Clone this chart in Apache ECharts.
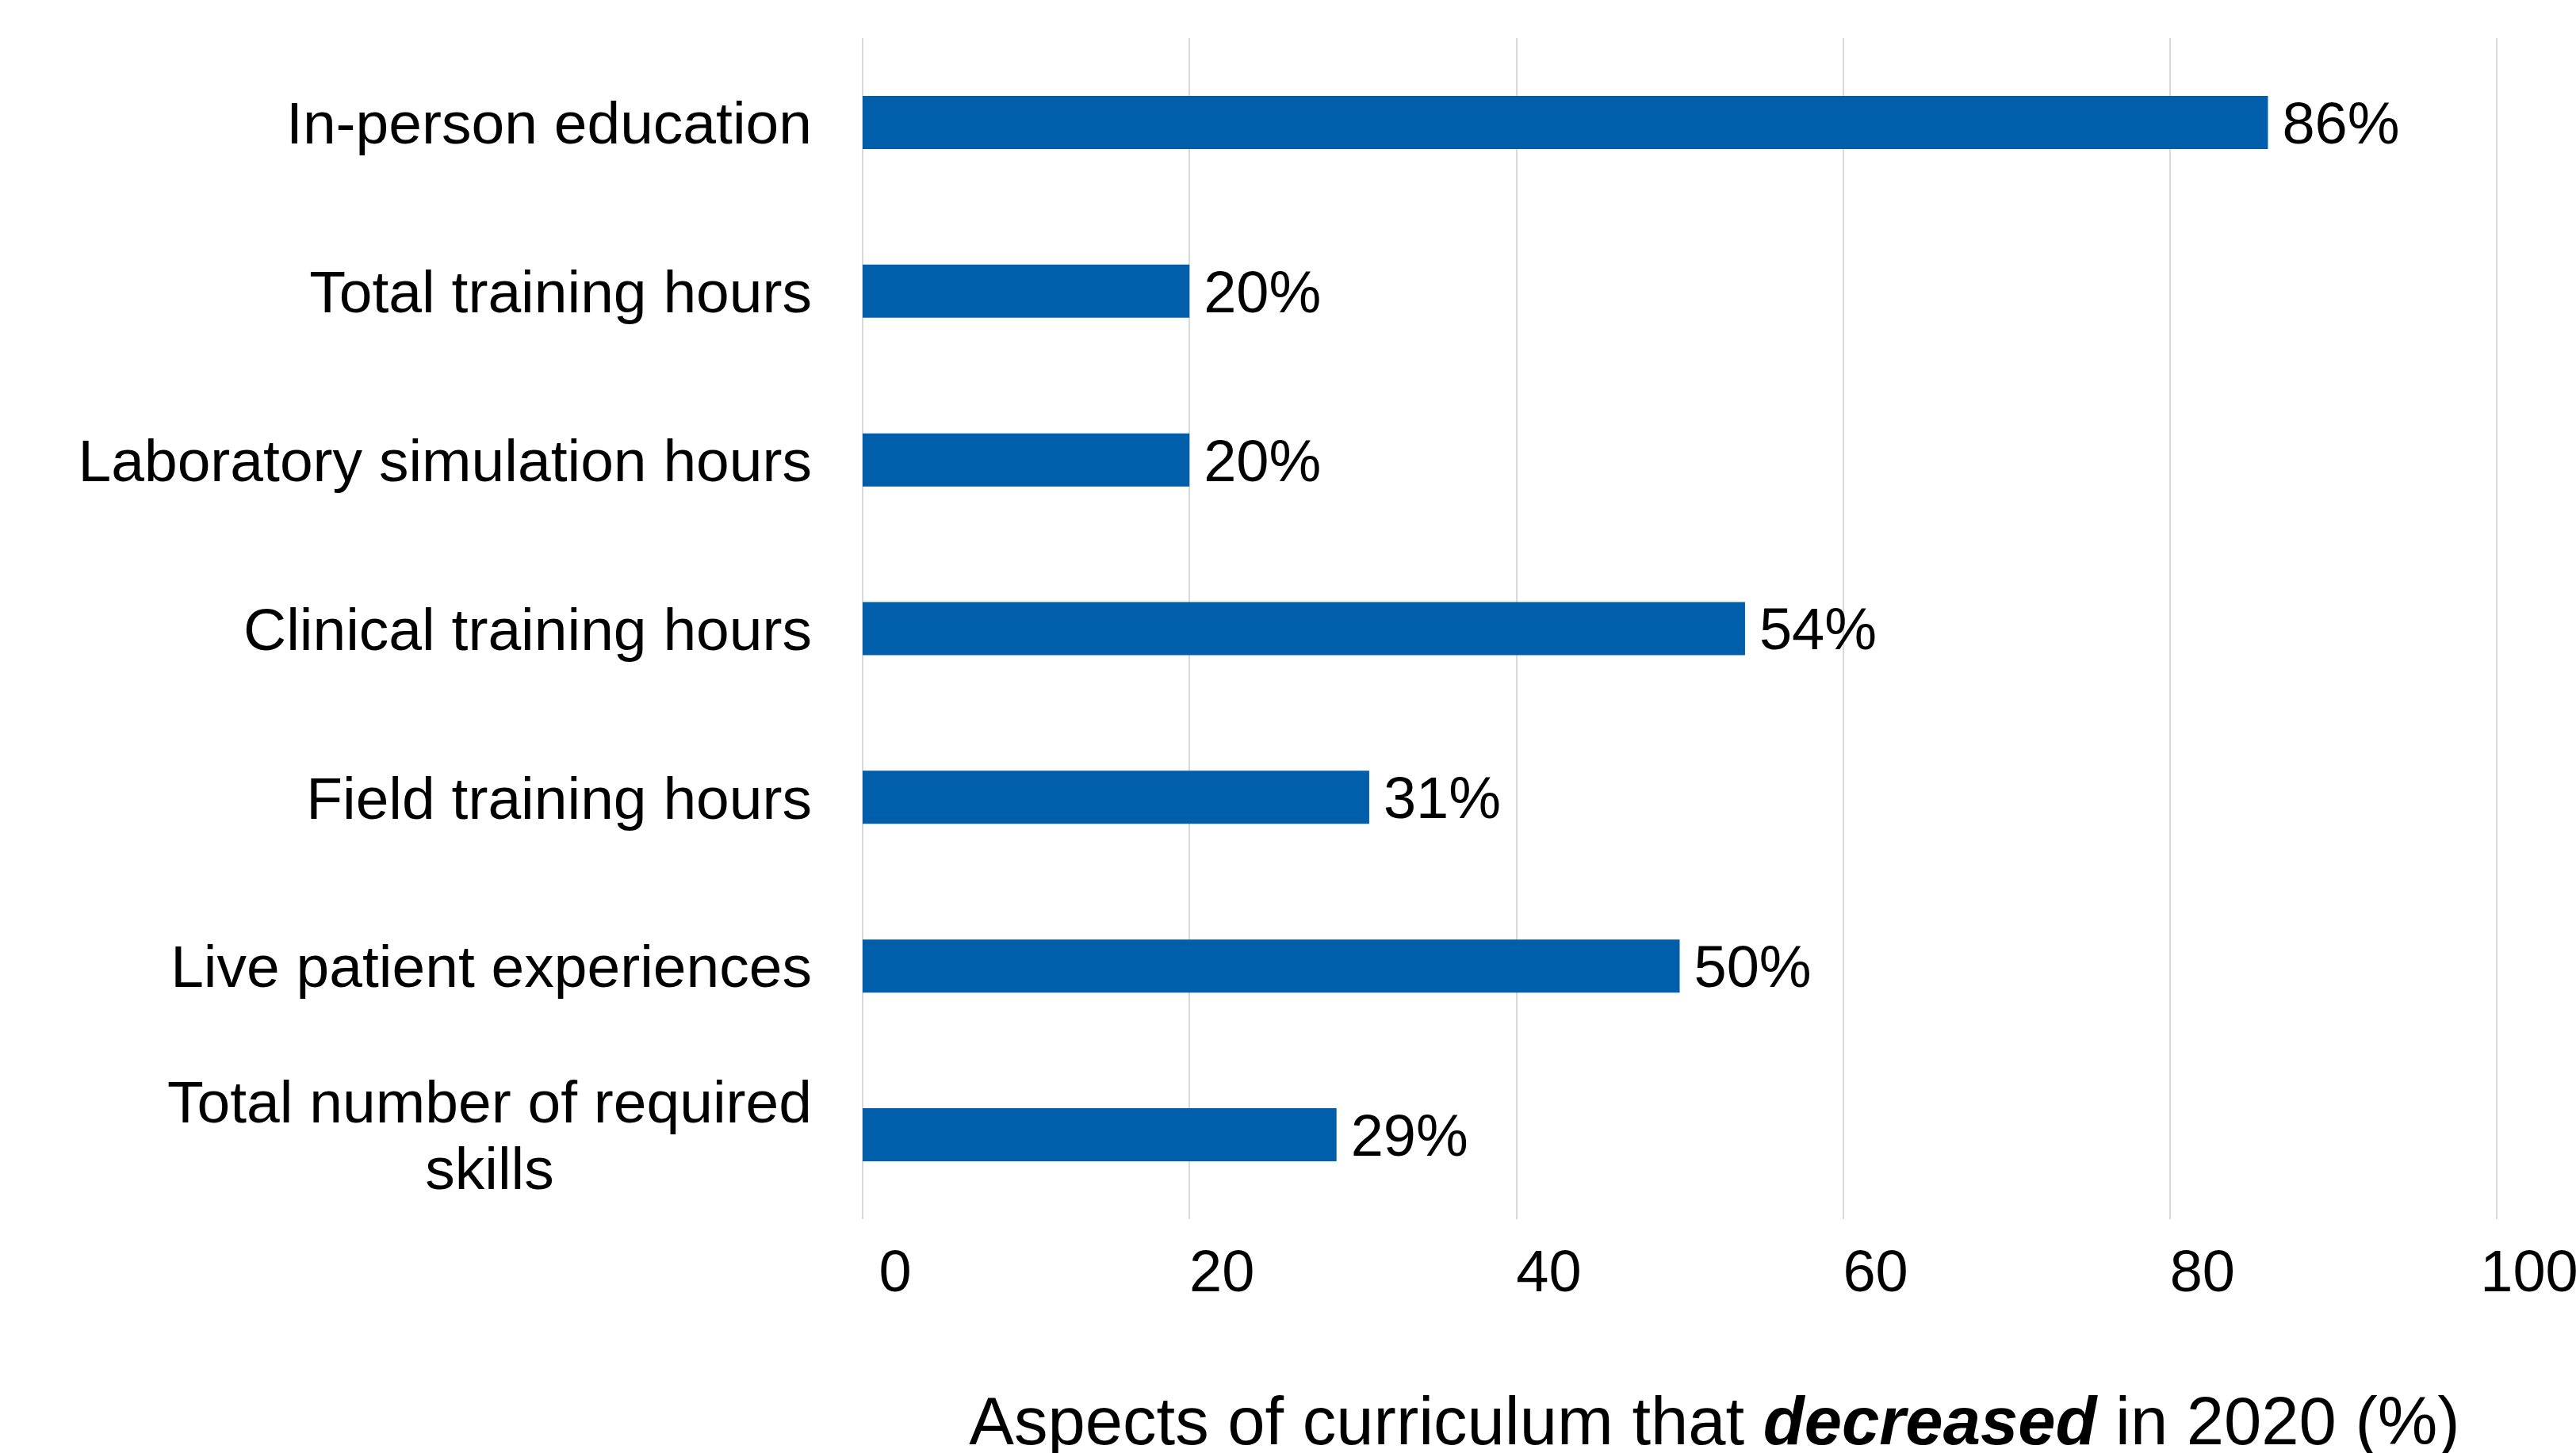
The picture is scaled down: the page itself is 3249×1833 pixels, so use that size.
<!DOCTYPE html>
<html>
<head>
<meta charset="utf-8">
<script src="https://cdn.jsdelivr.net/npm/echarts@6/dist/echarts.min.js"></script>
<style>
html,body{margin:0;padding:0;background:#fff;}
#chart{width:3249px;height:1833px;}
</style>
</head>
<body>
<div id="chart"></div>
<script>
const categories = [
  "In-person education",
  "Total training hours",
  "Laboratory simulation hours",
  "Clinical training hours",
  "Field training hours",
  "Live patient experiences",
  "Total number of required\nskills"
];
const values = [86, 20, 20, 54, 31, 50, 29];
const xTicks = [0, 20, 40, 60, 80, 100];

const FONT = "'Liberation Sans', Arial, sans-serif";
const chart = echarts.init(document.getElementById('chart'));
chart.setOption({
  backgroundColor: '#ffffff',
  animation: false,
  grid: { left: 1088, right: 100, top: 48, bottom: 295, containLabel: false, outerBoundsMode: 'none' },
  xAxis: {
    type: 'value',
    min: xTicks[0],
    max: xTicks[xTicks.length - 1],
    interval: xTicks[1] - xTicks[0],
    axisLine: { show: false },
    axisTick: { show: false },
    splitLine: { show: true, lineStyle: { color: '#d9d9d9', width: 2 } },
    axisLabel: {
      fontFamily: FONT, fontSize: 74, color: '#000',
      margin: 34, padding: [0, 0, 0, 82]
    },
    name: '{n|Aspects of curriculum that }{b|decreased}{n| in 2020 (%)}',
    nameLocation: 'middle',
    nameGap: 218,
    nameTextStyle: {
      padding: [0, 0, 0, 88],
      rich: {
        n: { fontFamily: FONT, fontSize: 85, color: '#000' },
        b: { fontFamily: FONT, fontSize: 85, color: '#000', fontWeight: 'bold', fontStyle: 'italic' }
      }
    }
  },
  yAxis: {
    type: 'category',
    data: categories,
    inverse: true,
    axisLine: { show: false },
    axisTick: { show: false },
    splitLine: { show: false },
    axisLabel: {
      margin: 64,
      padding: [12, 0, 0, 0],
      formatter: function (v) { return v.split('\n').map(s => '{c|' + s + '}').join('\n'); },
      rich: {
        c: { fontFamily: FONT, fontSize: 75, color: '#000', align: 'center', lineHeight: 84 }
      }
    }
  },
  series: [{
    type: 'bar',
    data: values,
    barWidth: 67,
    itemStyle: { color: '#005EAB' },
    label: {
      show: true, position: 'right', distance: 18, offset: [0, 6],
      formatter: '{c}%',
      fontFamily: FONT, fontSize: 74, color: '#000'
    }
  }]
});
</script>
</body>
</html>
